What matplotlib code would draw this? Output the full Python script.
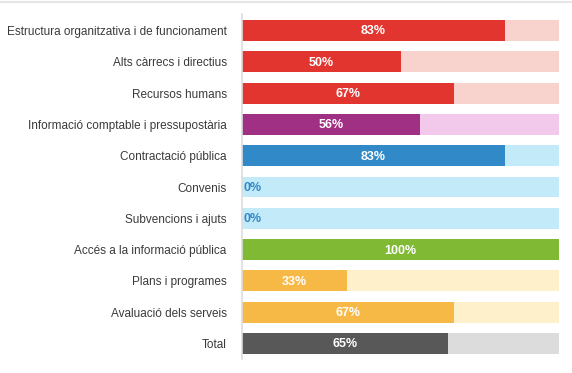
import matplotlib
matplotlib.use("Agg")
import matplotlib.pyplot as plt
from matplotlib.lines import Line2D

categories = [
    "Estructura organitzativa i de funcionament",
    "Alts càrrecs i directius",
    "Recursos humans",
    "Informació comptable i pressupostària",
    "Contractació pública",
    "Convenis",
    "Subvencions i ajuts",
    "Accés a la informació pública",
    "Plans i programes",
    "Avaluació dels serveis",
    "Total",
]
values = [83, 50, 67, 56, 83, 0, 0, 100, 33, 67, 65]
fill_colors = ["#E3352F", "#E3352F", "#E3352F", "#A03083", "#3189C8",
               "#3189C8", "#3189C8", "#80B933", "#F7B946", "#F7B946", "#585858"]
track_colors = ["#F8D2CD", "#F8D2CD", "#F8D2CD", "#F2C9EA", "#C3EAF9",
                "#C3EAF9", "#C3EAF9", "#80B933", "#FDF0CB", "#FDF0CB", "#DCDCDC"]

plt.rcParams["font.family"] = ["Liberation Sans", "DejaVu Sans"]

fig = plt.figure(figsize=(5.72, 3.73), dpi=100)
ax = fig.add_axes([242 / 572, 1 - 359 / 373, 317 / 572, 345 / 373])

pos = list(range(len(categories)))
h = 0.67
ax.barh(pos, [100] * len(values), height=h, color=track_colors, linewidth=0)
ax.barh(pos, values, height=h, color=fill_colors, linewidth=0)

for p, v, c in zip(pos, values, fill_colors):
    if v == 0:
        ax.text(0.6, p + 0.03, f"{v}%", ha="left", va="center", color=c,
                fontsize=9, fontweight="bold")
    else:
        ax.text(v / 2, p + 0.03, f"{v}%", ha="center", va="center", color="white",
                fontsize=9, fontweight="bold")

ax.set_xlim(0, 100)
ax.set_ylim(10.495, -0.527)
ax.set_yticks(pos)
ax.set_yticklabels(categories, fontsize=8.45, color="#3A3A3A")
ax.set_xticks([])
ax.tick_params(axis="y", length=0, pad=11)
for s in ["top", "right", "bottom"]:
    ax.spines[s].set_visible(False)
ax.spines["left"].set_color("#DDDDDD")
ax.spines["left"].set_linewidth(1.2)

fig.add_artist(Line2D([0, 1], [1 - 1.5 / 373] * 2, color="#E6E6E6", linewidth=1.5,
                      transform=fig.transFigure))

fig.savefig("out.png", dpi=100)
